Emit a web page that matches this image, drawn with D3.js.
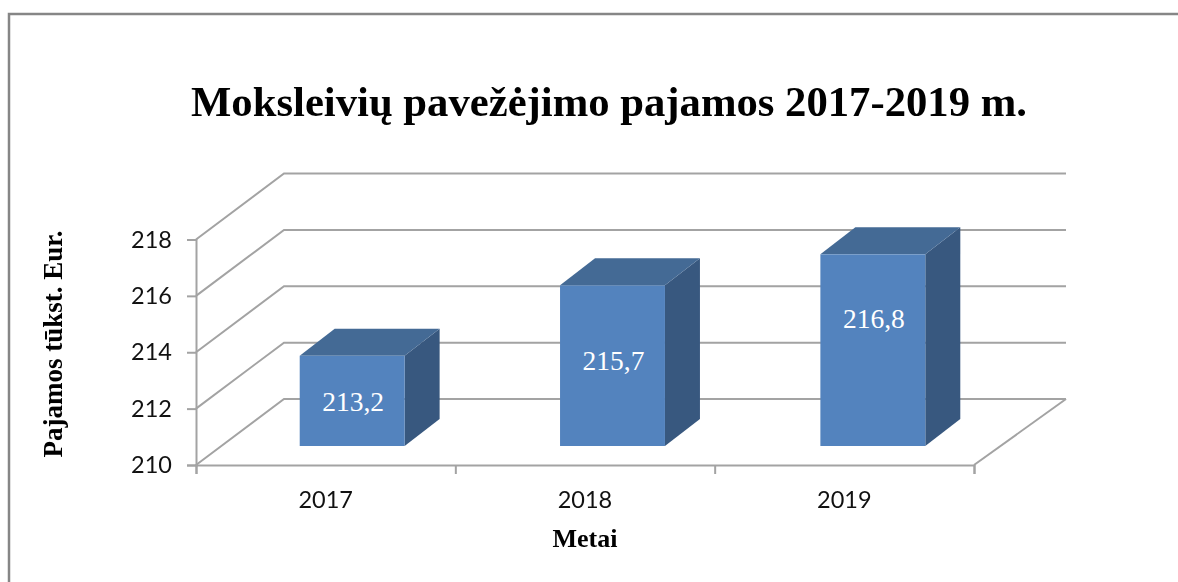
<!DOCTYPE html>
<html>
<head>
<meta charset="utf-8">
<script src="https://cdn.jsdelivr.net/npm/d3@7"></script>
<style>
  html, body { margin: 0; padding: 0; background: #fff; }
  svg { display: block; filter: blur(0.4px); }
</style>
</head>
<body>
<div id="chart"></div>
<script>
const years = ["2017", "2018", "2019"];
const revenue = [213.2, 215.7, 216.8];
const valueLabels = ["213,2", "215,7", "216,8"];
const yTicks = [210, 212, 214, 216, 218];

const titleText = "Moksleivių pavežėjimo pajamos 2017-2019 m.";
const yTitleText = "Pajamos tūkst. Eur.";
const xTitleText = "Metai";

const width = 1178;
const height = 582;
const serif = "'Liberation Serif', serif";
const sans = "Lato, 'Open Sans', sans-serif";
const gridColor = "#a3a3a3";

// Front plane of the 3d box, the back wall is shifted by wall offset
const front = { left: 196, right: 974, bottom: 465, top: 239.5 };
const wall = { dx: 88, dy: -66 };
const barPlane = { dx: 26, dy: -19 };
const barDepth = { dx: 35, dy: -27 };

// The value labels are not centred in the taller bars
const labelLift = [0, 5, 32];

const svg = d3.select("#chart").append("svg")
  .attr("width", width)
  .attr("height", height);

// Outer chart frame
svg.append("path")
  .attr("d", "M9,582V14H1178")
  .attr("fill", "none")
  .attr("stroke", "#868686")
  .attr("stroke-width", 2.5);

const x = d3.scaleBand()
  .domain(years)
  .range([front.left, front.right]);

// Bars are spaced a touch wider than the axis bands
const xBars = d3.scaleBand()
  .domain(years)
  .range([front.left, front.right + 3]);

const y = d3.scaleLinear()
  .domain([210, 218])
  .range([front.bottom, front.top]);

// Gridlines running along the side wall and the back wall
svg.append("g").selectAll("path")
  .data(yTicks)
  .join("path")
  .attr("d", d => {
    const p = d3.path();
    p.moveTo(front.left, y(d));
    p.lineTo(front.left + wall.dx, y(d) + wall.dy);
    p.lineTo(front.right + wall.dx + 4, y(d) + wall.dy);
    return p.toString();
  })
  .attr("fill", "none")
  .attr("stroke", gridColor)
  .attr("stroke-width", 2);

// Right edge of the floor
svg.append("line")
  .attr("x1", front.right)
  .attr("y1", y(210))
  .attr("x2", front.right + wall.dx + 4)
  .attr("y2", y(210) + wall.dy)
  .attr("stroke", gridColor)
  .attr("stroke-width", 2);

// Bars: side, top, front
const bars = svg.append("g").selectAll("g")
  .data(years.map((year, i) => ({ year, value: revenue[i], label: valueLabels[i], lift: labelLift[i] })))
  .join("g");

const barWidth = xBars.bandwidth() * 0.403;
const barLeft = d => xBars(d.year) + (xBars.bandwidth() - barWidth) / 2 + barPlane.dx;
const barY = v => y(v) + barPlane.dy;

bars.append("path")
  .attr("fill", "#38587f")
  .attr("d", d => {
    const r = barLeft(d) + barWidth;
    return d3.line()([
      [r, barY(d.value)],
      [r + barDepth.dx, barY(d.value) + barDepth.dy],
      [r + barDepth.dx, barY(210) + barDepth.dy],
      [r, barY(210)]
    ]) + "Z";
  });

bars.append("path")
  .attr("fill", "#446a95")
  .attr("d", d => {
    const l = barLeft(d);
    return d3.line()([
      [l, barY(d.value)],
      [l + barDepth.dx, barY(d.value) + barDepth.dy],
      [l + barWidth + barDepth.dx, barY(d.value) + barDepth.dy],
      [l + barWidth, barY(d.value)]
    ]) + "Z";
  });

bars.append("rect")
  .attr("fill", "#5383be")
  .attr("x", barLeft)
  .attr("y", d => barY(d.value))
  .attr("width", barWidth)
  .attr("height", d => barY(210) - barY(d.value));

bars.append("text")
  .attr("x", d => barLeft(d) + barWidth / 2 + 1)
  .attr("y", d => (barY(d.value) + barY(210)) / 2 - d.lift)
  .attr("dy", "0.35em")
  .attr("text-anchor", "middle")
  .attr("fill", "#fff")
  .attr("font-family", serif)
  .attr("font-size", 27.5)
  .text(d => d.label);

// Axes
const yAxis = svg.append("g")
  .attr("transform", `translate(${front.left},0)`)
  .call(d3.axisLeft(y).tickValues(yTicks).tickSize(9).tickPadding(15));

yAxis.selectAll("text")
  .attr("font-family", sans)
  .attr("font-size", 23.5)
  .attr("fill", "#111");

// Tick marks sit on the band edges, the labels in the band centres
const edges = d3.scaleLinear()
  .domain([0, years.length])
  .range([front.left, front.right]);

const xTickAxis = svg.append("g")
  .attr("transform", `translate(0,${front.bottom})`)
  .call(d3.axisBottom(edges).tickValues(d3.range(years.length + 1)).tickSize(9).tickFormat(""));

const xLabelAxis = svg.append("g")
  .attr("transform", `translate(0,${front.bottom})`)
  .call(d3.axisBottom(x).tickSize(0).tickPadding(26));

xLabelAxis.select(".domain").remove();
xLabelAxis.selectAll("text")
  .attr("font-family", sans)
  .attr("font-size", 23.5)
  .attr("fill", "#111");

[yAxis, xTickAxis].forEach(axis => {
  axis.selectAll(".domain, line")
    .attr("stroke", gridColor)
    .attr("stroke-width", 2);
});

// Titles
svg.append("text")
  .attr("x", 609)
  .attr("y", 116)
  .attr("text-anchor", "middle")
  .attr("font-family", serif)
  .attr("font-weight", "bold")
  .attr("font-size", 42.7)
  .attr("fill", "#000")
  .text(titleText);

svg.append("text")
  .attr("x", 585)
  .attr("y", 547)
  .attr("text-anchor", "middle")
  .attr("font-family", serif)
  .attr("font-weight", "bold")
  .attr("font-size", 26)
  .attr("fill", "#000")
  .text(xTitleText);

svg.append("text")
  .attr("transform", "translate(62,344) rotate(-90)")
  .attr("text-anchor", "middle")
  .attr("font-family", serif)
  .attr("font-weight", "bold")
  .attr("font-size", 27)
  .attr("fill", "#000")
  .text(yTitleText);
</script>
</body>
</html>
